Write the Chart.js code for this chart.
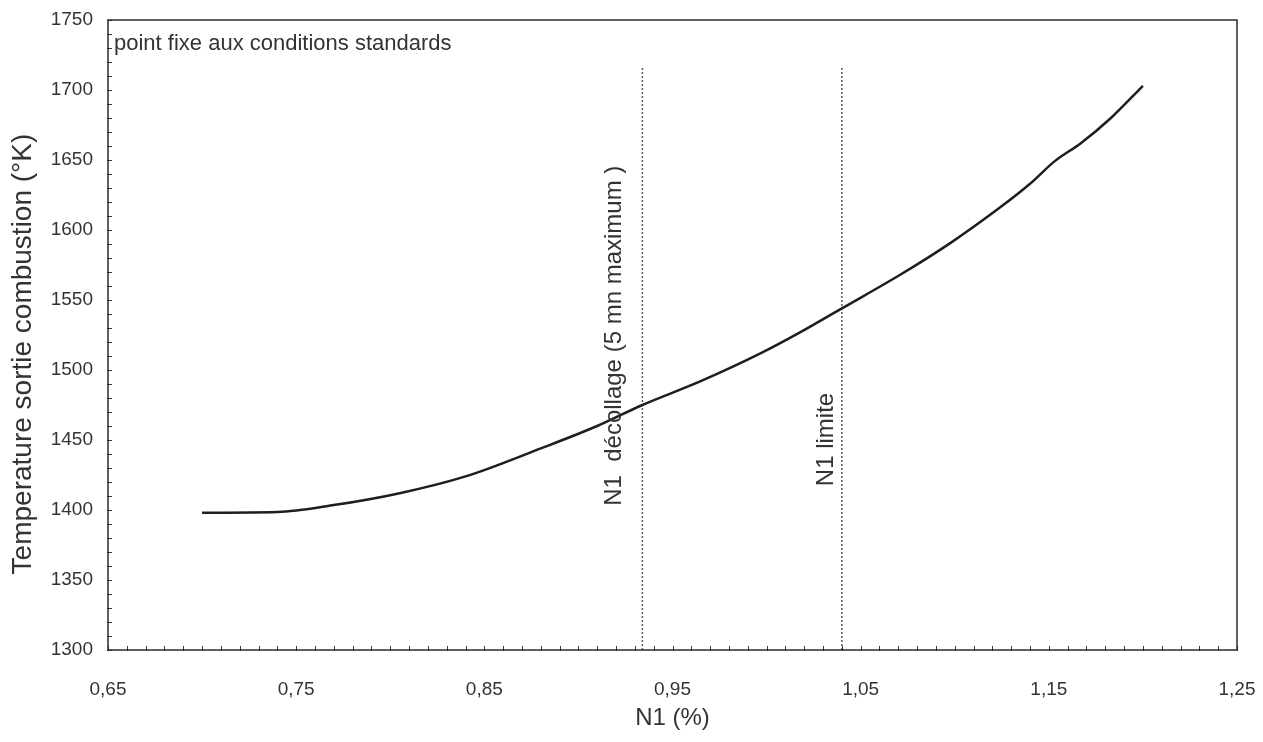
<!doctype html>
<html lang="fr">
  <head>
    <meta charset="utf-8">
    <title>Temperature sortie combustion</title>
    <style>
      * {
        margin: 0;
        padding: 0;
      }
      body {
        background: #fff;
      }
    </style>
  </head>
  <body>
    <canvas id="myChart" width="1263" height="742"></canvas>

    <script src="https://cdn.jsdelivr.net/npm/chart.js/dist/chart.umd.min.js"></script>
    <script>
    // courbe temperature / N1
    const n1Values = [0.700, 0.740, 0.770, 0.805, 0.840, 0.880, 0.910, 0.934, 0.965, 0.997,
                      1.018, 1.040, 1.071, 1.098, 1.124, 1.140, 1.153, 1.167, 1.183, 1.200];
    const tempValues = [1398, 1398.5, 1403.5, 1412, 1424, 1444, 1460, 1475, 1492, 1512,
                        1527, 1544, 1568, 1591, 1616, 1633, 1649, 1662, 1680, 1703];

    // lignes verticales N1
    const refNames = ['N1  décollage (5 mn maximum )', 'N1 limite'];
    const refN1 = [0.934, 1.04];
    const refBottom = 1300;
    const refTop = 1716;
    // debut du texte (valeur y) et decalage a gauche de la ligne
    const refTextStart = [1403, 1417];
    const refTextShift = [28, 15];

    const xMin = 0.65, xMax = 1.25, xStep = 0.1, xMinor = 0.01;
    const yMin = 1300, yMax = 1750, yStep = 50, yMinor = 10;
    const yTitle = 'Temperature sortie combustion (°K)';
    const yTitleStart = 1354;   // bas du titre vertical, en valeur y

    const curve = n1Values.map((x, i) => ({ x: x, y: tempValues[i] }));
    const refSets = refN1.map(x => ({
      data: [{ x: x, y: refBottom }, { x: x, y: refTop }],
      borderColor: '#5a5a5a',
      borderWidth: 1.5,
      borderDash: [2, 2],
      pointRadius: 0
    }));

    const font = 'Liberation Sans, Arial, sans-serif';

    // cadre, petites graduations et textes
    const extras = {
      id: 'extras',
      afterDatasetsDraw(chart) {
        const { ctx, chartArea: a, scales: { x, y } } = chart;
        ctx.save();

        ctx.strokeStyle = '#333';
        ctx.lineWidth = 1;
        for (let v = xMin; v <= xMax + 1e-9; v += xMinor) {
          const px = Math.round(x.getPixelForValue(v)) + 0.5;
          ctx.beginPath();
          ctx.moveTo(px, a.bottom + 1);
          ctx.lineTo(px, a.bottom - 4);
          ctx.stroke();
        }
        for (let v = yMin; v <= yMax; v += yMinor) {
          const py = Math.round(y.getPixelForValue(v)) + 0.5;
          ctx.beginPath();
          ctx.moveTo(a.left - 1, py);
          ctx.lineTo(a.left + 4, py);
          ctx.stroke();
        }

        ctx.strokeStyle = '#2a2a2a';
        ctx.lineWidth = 1.5;
        ctx.strokeRect(a.left, a.top, a.right - a.left, a.bottom - a.top);

        ctx.fillStyle = '#333';
        ctx.font = '22px ' + font;
        ctx.textBaseline = 'middle';
        ctx.textAlign = 'left';
        ctx.fillText('point fixe aux conditions standards', a.left + 6, a.top + 24);

        ctx.font = '24px ' + font;
        refNames.forEach((name, i) => {
          ctx.save();
          ctx.translate(x.getPixelForValue(refN1[i]) - refTextShift[i], y.getPixelForValue(refTextStart[i]));
          ctx.rotate(-Math.PI / 2);
          ctx.fillText(name, 0, 0);
          ctx.restore();
        });

        // titre de l'axe y
        ctx.font = '28px ' + font;
        ctx.save();
        ctx.translate(23, y.getPixelForValue(yTitleStart));
        ctx.rotate(-Math.PI / 2);
        ctx.fillText(yTitle, 0, 0);
        ctx.restore();

        ctx.restore();
      }
    };

    const config = {
      type: 'line',
      data: {
        datasets: [{
          data: curve,
          borderColor: '#1e1e1e',
          borderWidth: 2.5,
          pointRadius: 0,
          cubicInterpolationMode: 'monotone'
        }, ...refSets]
      },
      options: {
        responsive: false,
        animation: false,
        devicePixelRatio: 1,
        layout: { padding: { top: 20, right: 26, left: 0, bottom: 0 } },
        plugins: {
          legend: { display: false },
          tooltip: { enabled: false }
        },
        scales: {
          x: {
            type: 'linear',
            min: xMin,
            max: xMax,
            afterFit(scale) {
              scale.height = 92;
              scale.paddingLeft = 0;
              scale.paddingRight = 0;
            },
            grid: { display: false, drawTicks: false },
            border: { display: false },
            ticks: {
              stepSize: xStep,
              padding: 28,
              maxRotation: 0,
              color: '#333',
              font: { family: font, size: 19 },
              callback: v => v.toFixed(2).replace('.', ',')
            },
            title: {
              display: true,
              text: 'N1 (%)',
              color: '#333',
              font: { family: font, size: 24 },
              padding: { top: 0, bottom: 9 }
            }
          },
          y: {
            min: yMin,
            max: yMax,
            afterFit(scale) {
              scale.width = 108;
              scale.paddingTop = 0;
              scale.paddingBottom = 0;
            },
            grid: { display: false, drawTicks: false },
            border: { display: false },
            ticks: {
              stepSize: yStep,
              padding: 15,
              color: '#333',
              font: { family: font, size: 19 },
              callback: v => String(v)
            }
          }
        }
      },
      plugins: [extras]
    };

    const myChart = new Chart(document.getElementById('myChart'), config);
    </script>
  </body>
</html>
